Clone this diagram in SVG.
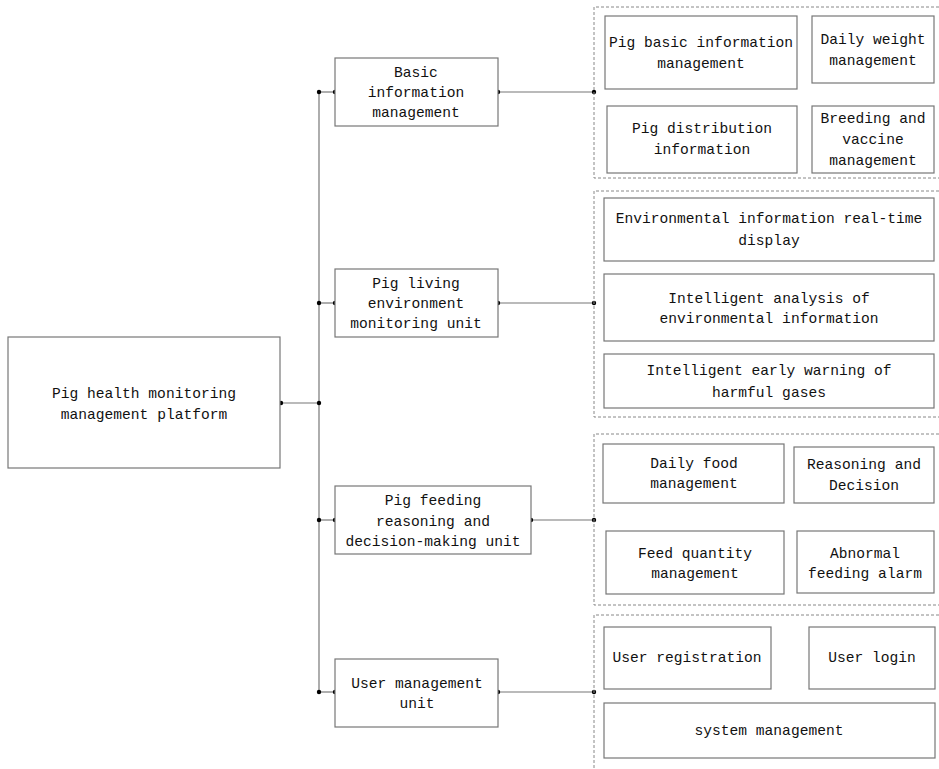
<svg xmlns="http://www.w3.org/2000/svg" width="939" height="769" viewBox="0 0 939 769">
<style>
.box{fill:#fff;stroke:#777;stroke-width:1.2}
.grp{fill:none;stroke:#888;stroke-width:1;stroke-dasharray:3 2}
.ln{stroke:#777;stroke-width:1.2;fill:none}
.dot{fill:#000}
text{font-family:"Liberation Mono","DejaVu Sans Mono",monospace;font-size:14.6px;fill:#111;text-anchor:middle}
</style>
<rect width="939" height="769" fill="#fff"/>
<g id="connectors">
<line class="ln" x1="281" y1="403" x2="319" y2="403"/>
<line class="ln" x1="319" y1="92" x2="319" y2="692"/>
<line class="ln" x1="319" y1="92" x2="335" y2="92"/>
<line class="ln" x1="319" y1="303" x2="335" y2="303"/>
<line class="ln" x1="319" y1="520" x2="335" y2="520"/>
<line class="ln" x1="319" y1="692" x2="335" y2="692"/>
<line class="ln" x1="498" y1="92" x2="594" y2="92"/>
<line class="ln" x1="498" y1="303" x2="594" y2="303"/>
<line class="ln" x1="531" y1="520" x2="594" y2="520"/>
<line class="ln" x1="498" y1="692" x2="594" y2="692"/>
<circle class="dot" cx="281" cy="403" r="2.2"/>
<circle class="dot" cx="319" cy="403" r="2.2"/>
<circle class="dot" cx="319" cy="92" r="2.2"/>
<circle class="dot" cx="335" cy="92" r="2.2"/>
<circle class="dot" cx="319" cy="303" r="2.2"/>
<circle class="dot" cx="335" cy="303" r="2.2"/>
<circle class="dot" cx="319" cy="520" r="2.2"/>
<circle class="dot" cx="335" cy="520" r="2.2"/>
<circle class="dot" cx="319" cy="692" r="2.2"/>
<circle class="dot" cx="335" cy="692" r="2.2"/>
<circle class="dot" cx="498" cy="92" r="2.2"/>
<circle class="dot" cx="594" cy="92" r="2.2"/>
<circle class="dot" cx="498" cy="303" r="2.2"/>
<circle class="dot" cx="594" cy="303" r="2.2"/>
<circle class="dot" cx="531" cy="520" r="2.2"/>
<circle class="dot" cx="594" cy="520" r="2.2"/>
<circle class="dot" cx="498" cy="692" r="2.2"/>
<circle class="dot" cx="594" cy="692" r="2.2"/>
</g>
<g id="root">
<rect class="box" x="8" y="337" width="272" height="131"/>
<text x="144" y="398">Pig health monitoring</text>
<text x="144" y="419">management platform</text>
</g>
<g id="basic">
<rect class="box" x="335" y="58" width="163" height="68"/>
<text x="416" y="77">Basic</text>
<text x="416" y="97">information</text>
<text x="416" y="117">management</text>
</g>
<g id="env">
<rect class="box" x="335" y="269" width="163" height="68"/>
<text x="416" y="288">Pig living</text>
<text x="416" y="308">environment</text>
<text x="416" y="328">monitoring unit</text>
</g>
<g id="feed">
<rect class="box" x="335" y="486" width="196" height="68"/>
<text x="433" y="505">Pig feeding</text>
<text x="433" y="526">reasoning and</text>
<text x="433" y="546">decision-making unit</text>
</g>
<g id="user">
<rect class="box" x="335" y="659" width="163" height="68"/>
<text x="417" y="688">User management</text>
<text x="417" y="708">unit</text>
</g>
<g id="group1">
<path class="grp" d="M939 7 H594 V178 H939"/>
<g id="g1a"><rect class="box" x="605" y="16" width="192" height="73"/>
<text x="701" y="47">Pig basic information</text><text x="701" y="68">management</text></g>
<g id="g1b"><rect class="box" x="812" y="16" width="122" height="67"/>
<text x="873" y="44">Daily weight</text><text x="873" y="65">management</text></g>
<g id="g1c"><rect class="box" x="607" y="106" width="190" height="67"/>
<text x="702" y="133">Pig distribution</text><text x="702" y="154">information</text></g>
<g id="g1d"><rect class="box" x="812" y="106" width="122" height="67"/>
<text x="873" y="123">Breeding and</text><text x="873" y="144">vaccine</text><text x="873" y="165">management</text></g>
</g>
<g id="group2">
<path class="grp" d="M939 191 H594 V417 H939"/>
<g id="g2a"><rect class="box" x="604" y="198" width="330" height="63"/>
<text x="769" y="223">Environmental information real-time</text><text x="769" y="245">display</text></g>
<g id="g2b"><rect class="box" x="604" y="274" width="330" height="67"/>
<text x="769" y="303">Intelligent analysis of</text><text x="769" y="323">environmental information</text></g>
<g id="g2c"><rect class="box" x="604" y="354" width="330" height="54"/>
<text x="769" y="375">Intelligent early warning of</text><text x="769" y="397">harmful gases</text></g>
</g>
<g id="group3">
<path class="grp" d="M939 434 H594 V605 H939"/>
<g id="g3a"><rect class="box" x="603" y="444" width="181" height="59"/>
<text x="694" y="468">Daily food</text><text x="694" y="488">management</text></g>
<g id="g3b"><rect class="box" x="794" y="447" width="140" height="56"/>
<text x="864" y="469">Reasoning and</text><text x="864" y="490">Decision</text></g>
<g id="g3c"><rect class="box" x="606" y="531" width="178" height="63"/>
<text x="695" y="558">Feed quantity</text><text x="695" y="578">management</text></g>
<g id="g3d"><rect class="box" x="797" y="531" width="137" height="62"/>
<text x="865" y="558">Abnormal</text><text x="865" y="578">feeding alarm</text></g>
</g>
<g id="group4">
<path class="grp" d="M939 615 H594 V769"/>
<g id="g4a"><rect class="box" x="604" y="627" width="167" height="62"/>
<text x="687" y="662">User registration</text></g>
<g id="g4b"><rect class="box" x="809" y="627" width="126" height="62"/>
<text x="872" y="662">User login</text></g>
<g id="g4c"><rect class="box" x="604" y="703" width="331" height="55"/>
<text x="769" y="735">system management</text></g>
</g>
</svg>
